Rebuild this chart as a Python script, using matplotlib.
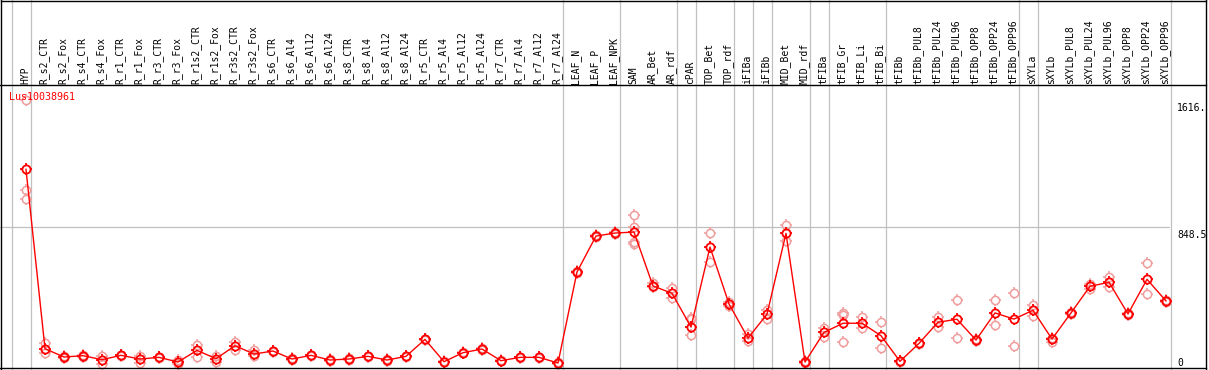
import numpy as np
import matplotlib
matplotlib.use("Agg")
import matplotlib.pyplot as plt
from matplotlib.lines import Line2D
from matplotlib.path import Path
from matplotlib.transforms import blended_transform_factory

# ---------------- data ----------------
title = "Lus10038961"

categories = [
    "HYP", "R_s2_CTR", "R_s2_Fox", "R_s4_CTR", "R_s4_Fox", "R_r1_CTR", "R_r1_Fox",
    "R_r3_CTR", "R_r3_Fox", "R_r1s2_CTR", "R_r1s2_Fox", "R_r3s2_CTR", "R_r3s2_Fox",
    "R_s6_CTR", "R_s6_Al4", "R_s6_Al12", "R_s6_Al24", "R_s8_CTR", "R_s8_Al4",
    "R_s8_Al12", "R_s8_Al24", "R_r5_CTR", "R_r5_Al4", "R_r5_Al12", "R_r5_Al24",
    "R_r7_CTR", "R_r7_Al4", "R_r7_Al12", "R_r7_Al24", "LEAF_N", "LEAF_P", "LEAF_NPK",
    "SAM", "AR_Bet", "AR_rdf", "cPAR", "TOP_Bet", "TOP_rdf", "iFIBa", "iFIBb",
    "MID_Bet", "MID_rdf", "tFIBa", "tFIB_Gr", "tFIB_Li", "tFIB_Bi", "tFIBb",
    "tFIBb_PUL8", "tFIBb_PUL24", "tFIBb_PUL96", "tFIBb_OPP8", "tFIBb_OPP24",
    "tFIBb_OPP96", "sXYLa", "sXYLb", "sXYLb_PUL8", "sXYLb_PUL24", "sXYLb_PUL96",
    "sXYLb_OPP8", "sXYLb_OPP24", "sXYLb_OPP96",
]

means = [
    1197, 119, 69, 77, 53, 79, 57, 67, 39, 109, 59, 137, 87, 105, 57, 79, 51, 57,
    73, 51, 73, 175, 41, 95, 117, 47, 67, 67, 33, 580, 796, 814, 820, 496, 452,
    249, 730, 388, 183, 326, 812, 39, 217, 272, 272, 197, 43, 151, 278, 296, 171,
    334, 297, 350, 177, 334, 494, 518, 328, 536, 406,
]

replicates = [
    [1616, 1071, 1017], [151, 91], [75, 62], [83, 71], [75, 29], [82, 76],
    [75, 32], [71, 63], [51, 27], [141, 71], [75, 39], [161, 111], [111, 77],
    [108, 102], [63, 51], [83, 75], [55, 47], [61, 53], [77, 69], [55, 47],
    [77, 69], [179, 171], [45, 37], [99, 91], [121, 113], [51, 43], [71, 63],
    [71, 63], [37, 29], [584, 576], [800, 792], [818, 810],
    [922, 852, 762, 748], [512, 488], [482, 422], [297, 199, 302], [812, 638],
    [398, 378], [207, 163], [352, 297], [860, 764], [43, 35], [245, 191],
    [332, 320, 157], [308, 242], [278, 123], [47, 39], [155, 147], [311, 248],
    [410, 181], [175, 167], [410, 260], [452, 133], [382, 317], [161, 183],
    [338, 330], [506, 478], [548, 492], [332, 324], [632, 448], [410, 402],
]

group_ends = [-1, 0, 28, 31, 34, 35, 37, 38, 39, 41, 42, 45, 52, 53, 60]
axis_values = [1616, 848.5, 0]
axis_labels = ["1616.", "848.5", "0"]

# ---------------- layout ----------------
W, H = 1209, 370
def fx(px): return px / W
def fy(py): return 1 - py / H

fig = plt.figure(figsize=(W / 100, H / 100), dpi=100)
fig.patch.set_facecolor("white")

plot_top, plot_bot, plot_right = 85.0, 368.5, 1170.0
k = 0.1664  # px per unit
ax = fig.add_axes([0, fy(plot_bot), plot_right / W, (plot_bot - plot_top) / H])
ax.set_xlim(-26 / 19, (plot_right - 26) / 19)
ax.set_ylim(0, (plot_bot - plot_top) / k)
ax.axis("off")

grey = "#c0c0c0"
ymax_fig = plot_bot / (plot_bot - plot_top)
for g in group_ends:
    ax.axvline(g + 0.24, ymin=0, ymax=ymax_fig, color=grey, lw=0.9,
               clip_on=False, zorder=1)
ax.axhline(848.5, color=grey, lw=0.9, zorder=1)

# tick-only marker (four short outer ticks) drawn over a round 'o' marker
tv = [(0, 1.0), (0, 1.45), (0, -1.0), (0, -1.45), (1.0, 0), (1.45, 0), (-1.0, 0), (-1.45, 0)]
tc = [Path.MOVETO, Path.LINETO] * 4
ticks = Path(tv, tc)
circle_ms = 5.9
tick_ms = circle_ms * 1.45

x = np.arange(len(categories))
rx = np.concatenate([[i] * len(r) for i, r in enumerate(replicates)])
ry = np.concatenate(replicates)
rep_col = "#f09c9c"
for mk, ms in (("o", circle_ms), (ticks, tick_ms)):
    ax.plot(rx, ry, linestyle="none", marker=mk, markersize=ms,
            markerfacecolor="none", markeredgecolor=rep_col, markeredgewidth=1.1,
            zorder=2, clip_on=False)
ax.plot(x, means, color="#ff0000", lw=1.0, zorder=3, clip_on=False)
for mk, ms in (("o", circle_ms), (ticks, tick_ms)):
    ax.plot(x, means, linestyle="none", marker=mk, markersize=ms,
            markerfacecolor="none", markeredgecolor="#ff0000", markeredgewidth=1.3,
            zorder=4, clip_on=False)

mono = "DejaVu Sans Mono"
# header labels
tr_hdr = blended_transform_factory(ax.transData, fig.transFigure)
for i, c in enumerate(categories):
    ax.text(i - 1 / 19, fy(83.5), c, rotation=90, ha="center", va="bottom",
            fontsize=7, family=mono, color="black", transform=tr_hdr)

# title
fig.text(fx(9), fy(97.5), title, color="#ff0000", fontsize=7.2, family=mono,
         ha="left", va="center")

# right value labels
tr_r = blended_transform_factory(ax.transAxes, ax.transData)
for v, lab in zip(axis_values, axis_labels):
    va = "bottom" if v == 0 else "top"
    off = 0 if v == 0 else -18
    ax.text(1 + 7 / plot_right, v + off, lab, ha="left", va=va, fontsize=7,
            family=mono, color="black", transform=tr_r, clip_on=False)

# frame lines
def fline(x0, y0, x1, y1, lw=1.0):
    fig.add_artist(Line2D([fx(x0), fx(x1)], [fy(y0), fy(y1)], color="black",
                          lw=lw, transform=fig.transFigure, zorder=10))

fline(0.5, 0.5, 1206, 0.5)
fline(0.5, 0, 0.5, 369)
fline(1205.7, 0, 1205.7, 369)
fline(0, 368.3, 1206, 368.3)
fline(0, 85, 1206, 85)

fig.savefig("out.png", dpi=100, facecolor="white")
